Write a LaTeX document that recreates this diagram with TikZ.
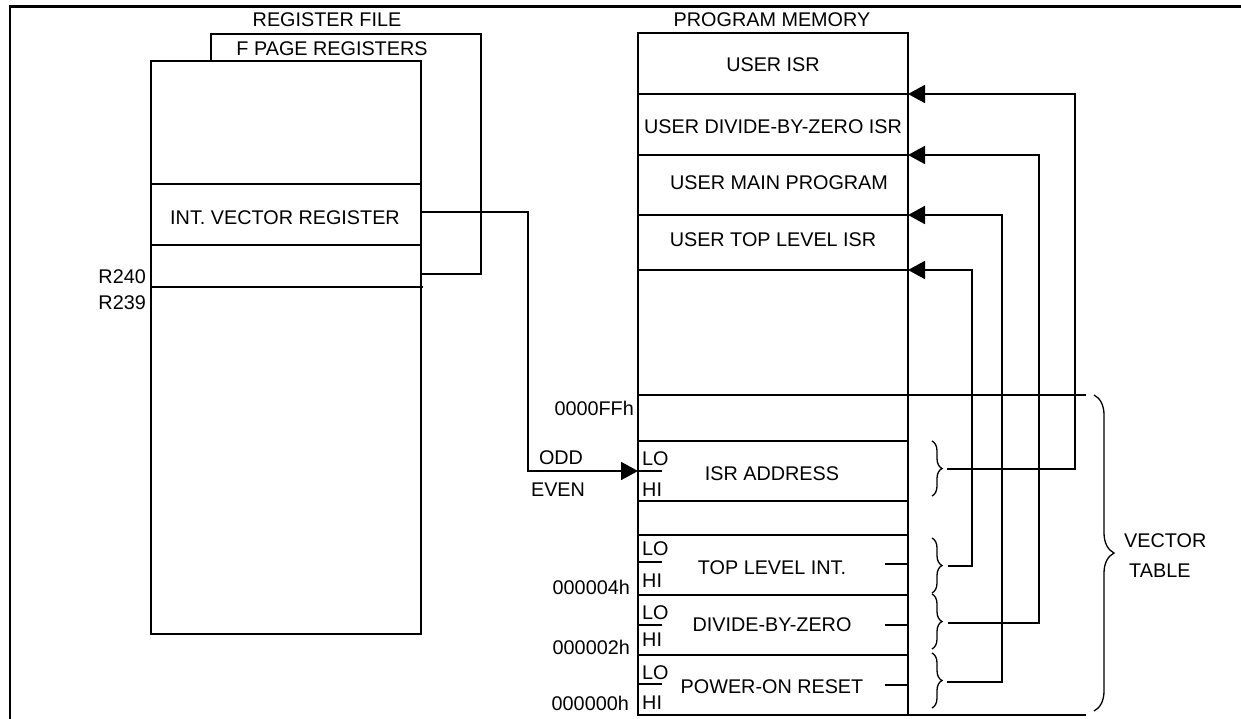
\documentclass[tikz,border=0pt]{standalone}
\usepackage{fontspec}
\setmainfont{Liberation Sans}
\usetikzlibrary{arrows.meta,decorations.pathreplacing}
\begin{document}
\begin{tikzpicture}[x=1pt,y=-1pt,
  every node/.style={font=\fontsize{19.8}{23}\selectfont, inner sep=0pt},
  lbl/.style={anchor=base},
  lblw/.style={anchor=base west},
  lble/.style={anchor=base east},
  ln/.style={line width=1.8pt},
  frame/.style={line width=2.4pt},
  arr/.style={ln,-{Triangle[length=17pt,width=18pt]}},
  brc/.style={line width=1.3pt,decorate,decoration={brace,amplitude=#1}}
]
\useasboundingbox (0,0) rectangle (1241,719);
% frame
\coordinate (fbl) at (10,719);
\coordinate (ftl) at (10,6.7);
\coordinate (ftr) at (1241,6.7);
\draw[frame] (fbl) -- (ftl) -- (ftr);

% ---------- register file ----------
\node[lbl] (rftitle) at (327,27) {REGISTER FILE};
\coordinate (fp1) at (211,61);
\coordinate (fp2) at (211,34);
\coordinate (fp3) at (481,34);
\coordinate (fp4) at (481,274);
\coordinate (fp5) at (421,274);
\draw[ln] (fp1) -- (fp2) -- (fp3) -- (fp4) -- (fp5);
\node[lbl] (fptitle) at (332,56) {F PAGE REGISTERS};
\coordinate (rfa) at (151,61);
\coordinate (rfb) at (421,634);
\draw[ln] (rfa) rectangle (rfb);
\coordinate (rl1a) at (151,184); \coordinate (rl1b) at (421,184);
\coordinate (rl2a) at (151,245); \coordinate (rl2b) at (421,245);
\coordinate (rl3a) at (151,287); \coordinate (rl3b) at (423,287);
\draw[ln] (rl1a) -- (rl1b);
\draw[ln] (rl2a) -- (rl2b);
\draw[ln] (rl3a) -- (rl3b);
\node[lbl] (ivr) at (285,225) {INT. VECTOR REGISTER};
\node[lble] (r240) at (146,283) {R240};
\node[lble] (r239) at (146,309) {R239};

% ---------- program memory ----------
\node[lbl] (pmtitle) at (772,27) {PROGRAM MEMORY};
\coordinate (pma) at (638,33);
\coordinate (pmb) at (908,715);
\draw[ln] (pma) rectangle (pmb);
\foreach \yy/\nm in {94/a,155/b,215/c,270/d,441/f,501/g,535/h,595/i,655/j}{
  \coordinate (pl\nm l) at (638,\yy);
  \coordinate (pl\nm r) at (908,\yy);
  \draw[ln] (pl\nm l) -- (pl\nm r);
}
\coordinate (vtl) at (638,395);
\coordinate (vtr) at (1086,395);
\draw[ln] (vtl) -- (vtr);
\coordinate (vbl) at (908,715);
\coordinate (vbr) at (1086,715);
\draw[ln] (vbl) -- (vbr);

\node[lbl] (uisr) at (773,72) {USER ISR};
\node[lbl] (udiv) at (773,134) {USER DIVIDE-BY-ZERO ISR};
\node[lbl] (umain) at (779,190) {USER MAIN PROGRAM};
\node[lbl] (utop) at (773,247) {USER TOP LEVEL ISR};

\node[lble] (aff) at (634,415) {0000FFh};
\node[lble] (a4) at (630,594) {000004h};
\node[lble] (a2) at (630,654) {000002h};
\node[lble] (a0) at (629,710) {000000h};
\node[lbl] (odd) at (561,464) {ODD};
\node[lbl] (even) at (558,496) {EVEN};

% LO / HI
\foreach \dy/\loy/\hiy/\nm in {471/465/496/a,562/555/587/b,625/619/646/c,684/679/709/d}{
  \coordinate (dv\nm l) at (638,\dy);
  \coordinate (dv\nm r) at (662,\dy);
  \draw[ln] (dv\nm l) -- (dv\nm r);
  \node[lblw] (lo\nm) at (642,\loy) {LO};
  \node[lblw] (hi\nm) at (642,\hiy) {HI};
}
\node[lbl] (isra) at (772,480) {ISR ADDRESS};
\node[lbl] (topi) at (772,574) {TOP LEVEL INT.};
\node[lbl] (divz) at (772,631) {DIVIDE-BY-ZERO};
\node[lbl] (por) at (772,693) {POWER-ON RESET};

% short ticks
\foreach \yy/\nm in {564/b,625/c,685/d}{
  \coordinate (tk\nm l) at (885,\yy);
  \coordinate (tk\nm r) at (908,\yy);
  \draw[ln] (tk\nm l) -- (tk\nm r);
}

% braces
\coordinate (bra1) at (932,441); \coordinate (bra2) at (932,496);
\coordinate (brb1) at (932,538); \coordinate (brb2) at (932,593);
\coordinate (brc1) at (932,594); \coordinate (brc2) at (932,649);
\coordinate (brd1) at (932,653); \coordinate (brd2) at (932,708);
\draw[brc=10pt] (bra1) -- (bra2);
\draw[brc=10pt] (brb1) -- (brb2);
\draw[brc=10pt] (brc1) -- (brc2);
\draw[brc=10pt] (brd1) -- (brd2);
\coordinate (bg1) at (1094,395); \coordinate (bg2) at (1094,711);
\draw[brc=20pt] (bg1) -- (bg2);
\node[lblw] (vec) at (1124,547) {VECTOR};
\node[lblw] (tab) at (1129,577) {TABLE};

% connectors from braces to program memory
\coordinate (ca0) at (947,469);  \coordinate (ca1) at (1075,469); \coordinate (ca2) at (1075,94);
\coordinate (cb0) at (948,566);  \coordinate (cb1) at (972,566);  \coordinate (cb2) at (972,270);
\coordinate (cc0) at (948,623);  \coordinate (cc1) at (1039,623); \coordinate (cc2) at (1039,155);
\coordinate (cd0) at (947,682);  \coordinate (cd1) at (1002,682); \coordinate (cd2) at (1002,215);
\draw[arr] (ca0) -- (ca1) -- (ca2) -- (plar);
\draw[arr] (cb0) -- (cb1) -- (cb2) -- (pldr);
\draw[arr] (cc0) -- (cc1) -- (cc2) -- (plbr);
\draw[arr] (cd0) -- (cd1) -- (cd2) -- (plcr);

% int vector register to ISR address
\coordinate (iv0) at (421,212);
\coordinate (iv1) at (528,212);
\coordinate (iv2) at (528,471);
\draw[arr] (iv0) -- (iv1) -- (iv2) -- (dval);
\end{tikzpicture}
\end{document}
